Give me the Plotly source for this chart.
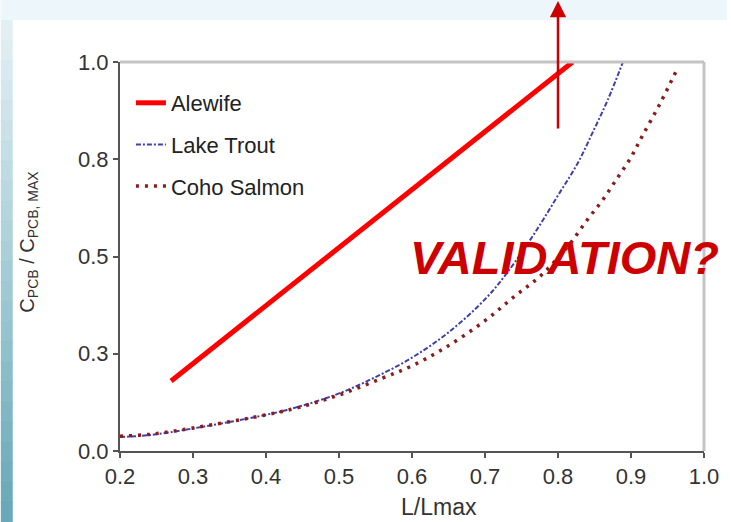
import plotly.graph_objects as go

# ---------------- data ----------------
alewife_x = [0.27, 0.82]
alewife_y = [0.18, 1.0]

lake_trout_x = [0.2, 0.241, 0.3, 0.4, 0.445, 0.5, 0.55, 0.6, 0.65, 0.7, 0.731,
                0.768, 0.799, 0.827, 0.849, 0.868, 0.889]
lake_trout_y = [0.036, 0.041, 0.058, 0.093, 0.114, 0.148, 0.19, 0.24, 0.305, 0.39, 0.46,
                0.560, 0.654, 0.740, 0.825, 0.902, 1.0]

coho_x = [0.2, 0.241, 0.3, 0.4, 0.445, 0.5, 0.559, 0.6, 0.645, 0.7, 0.740, 0.777,
          0.813, 0.840, 0.861, 0.881, 0.899, 0.915, 0.940, 0.963]
coho_y = [0.038, 0.043, 0.059, 0.093, 0.112, 0.144, 0.187, 0.219, 0.265, 0.335, 0.397, 0.452,
          0.525, 0.594, 0.645, 0.701, 0.752, 0.808, 0.894, 0.981]

x_tickvals = [0.2, 0.3, 0.4, 0.5, 0.6, 0.7, 0.8, 0.9, 1.0]
x_ticktext = ["0.2", "0.3", "0.4", "0.5", "0.6", "0.7", "0.8", "0.9", "1.0"]
y_tickvals = [0.0, 0.25, 0.5, 0.75, 1.0]
y_ticktext = ["0.0", "0.3", "0.5", "0.8", "1.0"]

# ---------------- layout geometry ----------------
W, H = 731, 522
L, R, T, B = 120, 23, 62, 71
PW, PH = W - L - R, H - T - B


def px(xp):
    return (xp - L) / PW


def py(yp):
    return (H - B - yp) / PH


FONT = "Liberation Sans, Arial, sans-serif"

fig = go.Figure()
fig.add_trace(go.Scatter(x=alewife_x, y=alewife_y, mode="lines", name="Alewife",
                         legendgroup="a",
                         line=dict(color="#ff0000", width=5)))
fig.add_trace(go.Scatter(x=lake_trout_x, y=lake_trout_y, mode="lines", name="Lake Trout",
                         legendgroup="b", line_shape="spline",
                         line=dict(color="#4040aa", width=2, dash="5px,2px,2px,2px")))
fig.add_trace(go.Scatter(x=coho_x, y=coho_y, mode="lines", name="Coho Salmon",
                         legendgroup="c", line_shape="spline",
                         line=dict(color="#8b1c1c", width=3.5, dash="3px,6px")))

shapes = []
# slide background: left gradient strip and top strip
n = 26
c_top = (232, 243, 247)
c_bot = (104, 168, 184)
for i in range(n):
    t = i / (n - 1)
    c = tuple(int(c_top[k] + (c_bot[k] - c_top[k]) * t) for k in range(3))
    y0p = i * H / n
    y1p = (i + 1) * H / n + 1
    shapes.append(dict(type="rect", xref="paper", yref="paper", layer="below",
                       x0=px(0), x1=px(12), y0=py(y1p), y1=py(y0p),
                       fillcolor="rgb(%d,%d,%d)" % c, line=dict(width=0)))
shapes.append(dict(type="rect", xref="paper", yref="paper", layer="below",
                   x0=px(0), x1=px(W), y0=py(20), y1=py(0),
                   fillcolor="#edf6fa", line=dict(width=0)))
# light gray top and right frame
shapes.append(dict(type="line", xref="paper", yref="paper", x0=0, x1=1, y0=1, y1=1,
                   line=dict(color="#c4c4c4", width=3)))
shapes.append(dict(type="line", xref="paper", yref="paper", x0=1, x1=1, y0=0, y1=1,
                   line=dict(color="#c4c4c4", width=3)))

annotations = [
    dict(text="C<sub>PCB</sub> / C<sub>PCB, MAX</sub>", xref="paper", yref="paper",
         x=px(27), y=py(242), xanchor="center", yanchor="middle",
         textangle=-90, showarrow=False,
         font=dict(family=FONT, size=20, color="#333333")),
    dict(text="L/Lmax", xref="paper", yref="paper", x=px(441), y=py(507),
         xanchor="center", yanchor="middle",
         showarrow=False, font=dict(family=FONT, size=23, color="#333333")),
    dict(text="<b><i>VALIDATION?</i></b>", xref="paper", yref="paper",
         x=px(568), y=py(257), xanchor="center", yanchor="middle", showarrow=False,
         font=dict(family=FONT, size=47, color="#cc0000")),
    dict(text="", xref="paper", yref="paper", x=px(561), y=py(1),
         showarrow=True, ax=0, ay=129, arrowhead=2, arrowsize=1.3, arrowwidth=2.5,
         arrowcolor="#cc0000"),
]

fig.update_layout(
    width=W, height=H,
    margin=dict(l=L, r=R, t=T, b=B),
    paper_bgcolor="white", plot_bgcolor="white",
    font=dict(family=FONT, size=21, color="#333333"),
    showlegend=True,
    legend=dict(x=px(131), y=py(82), xanchor="left", yanchor="top",
                bgcolor="rgba(0,0,0,0)", font=dict(size=22, color="#222222"),
                tracegroupgap=10, traceorder="grouped", itemwidth=30),
    shapes=shapes,
    annotations=annotations,
)
fig.update_xaxes(range=[0.2, 1.0], tickvals=x_tickvals, ticktext=x_ticktext,
                 showgrid=False, zeroline=False, showline=True, linecolor="#555555",
                 linewidth=2, ticks="outside", ticklen=5, tickcolor="#555555",
                 tickwidth=1.5, tickfont=dict(size=22, color="#333333"))
fig.update_yaxes(range=[0.0, 1.0], tickvals=y_tickvals, ticktext=y_ticktext,
                 showgrid=False, zeroline=False, showline=True, linecolor="#555555",
                 linewidth=2, ticks="outside", ticklen=5, tickcolor="#555555",
                 tickwidth=1.5, tickfont=dict(size=22, color="#333333"))

fig.write_html("out.html", config={"displayModeBar": False},
               post_script="document.body.style.margin='0';"
                           "document.body.style.overflow='hidden';")
